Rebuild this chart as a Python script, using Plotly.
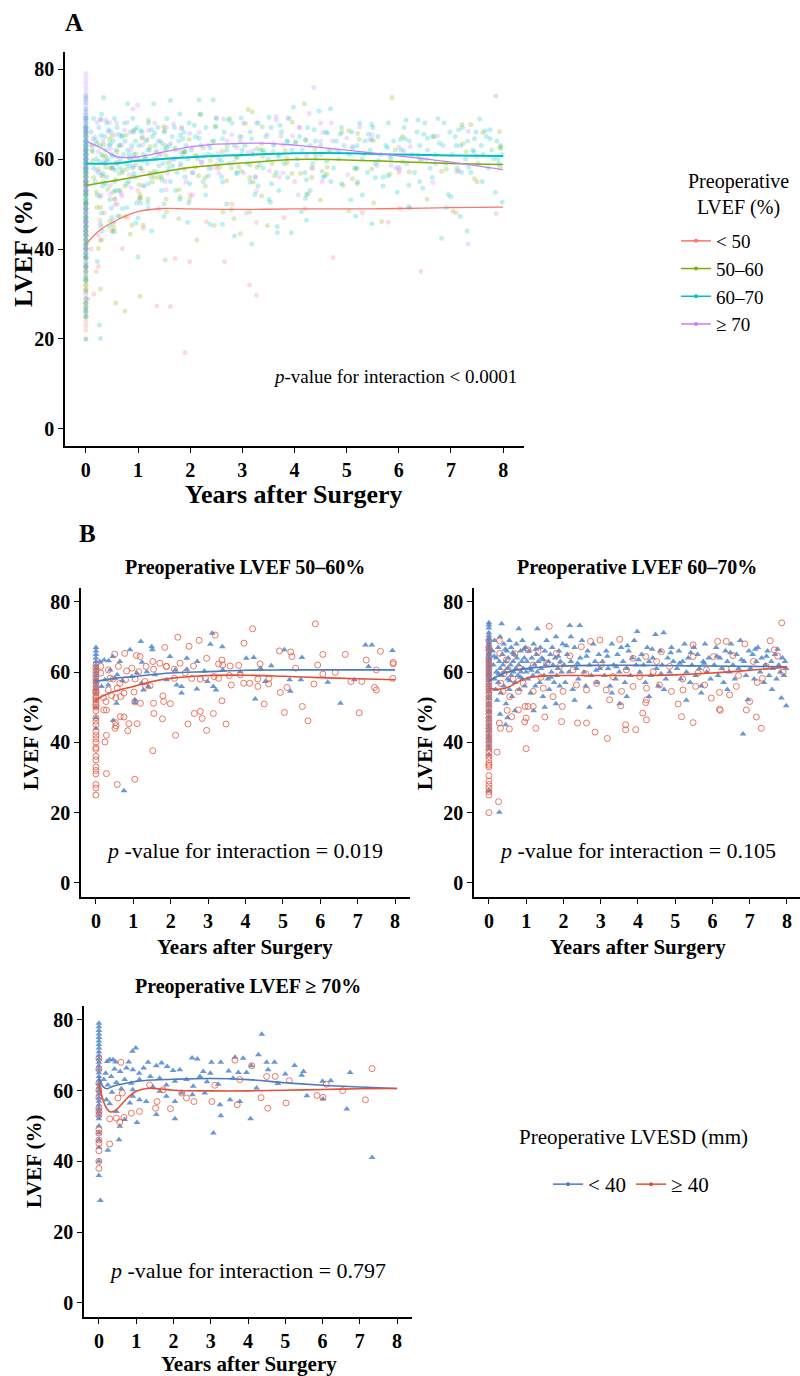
import plotly.graph_objects as go

W, H = 800, 1376
FONT = "Liberation Serif, Times New Roman, DejaVu Serif, serif"

# ---------------- data ----------------
year_ticks = [0, 1, 2, 3, 4, 5, 6, 7, 8]
lvef_ticks = [0, 20, 40, 60, 80]

groups_a = ["&lt; 50", "50–60", "60–70", "≥ 70"]
colors_a = ["#F8766D", "#7CAE00", "#00BFC4", "#C77CFF"]
groups_b = ["&lt; 40", "≥ 40"]

# ----- Panel B1: preoperative LVEF 50-60% -----
b1_blue_col = [67, 66, 65, 64, 63, 62, 61, 60, 59, 58, 57.5, 57, 56, 55, 54, 52, 50, 47, 44]
b1_blue_pts = [(3.11, 71.0), (3.06, 67.9), (3.38, 67.2), (1.2, 68.7), (1.49, 67.2), (1.51, 66.3),
               (0.91, 66.3), (0.45, 64.4), (0.11, 63.0), (0.22, 63.4), (0.34, 63.2), (0.64, 63.0),
               (1.23, 62.8), (1.98, 64.4), (2.43, 63.9), (2.71, 63.0), (4.02, 63.9), (4.22, 64.1),
               (5.04, 66.3), (5.51, 64.1), (7.21, 67.7), (7.38, 67.7), (7.93, 66.1), (7.29, 61.6),
               (6.91, 57.8), (6.54, 51.1), (6.2, 57.1), (5.48, 57.8), (5.2, 54.5), (5.18, 57.8),
               (4.53, 57.3), (4.26, 52.3), (4.69, 61.8), (4.4, 61.1), (3.86, 60.1), (3.39, 60.6),
               (2.9, 60.3), (2.43, 60.8), (2.12, 60.6), (1.58, 59.2), (1.89, 57.8), (2.16, 56.3),
               (2.29, 55.9), (2.7, 55.2), (2.98, 57.3), (3.14, 55.9), (3.21, 54.9), (2.29, 54.0),
               (1.27, 54.9), (1.4, 55.9), (1.22, 56.8), (1.04, 52.1), (1.04, 51.3), (0.55, 51.1),
               (0.46, 46.2), (0.75, 26.2), (0.33, 56.3), (0.51, 58.2), (0.57, 59.2), (0.71, 57.5),
               (0.96, 58.7), (1.09, 59.7), (1.36, 60.1), (0.24, 57.8), (0.15, 55.9), (0.38, 60.6)]
b1_red_col = [62, 61, 60, 59, 58, 57, 56, 55, 54.5, 54, 53, 52.5, 52, 51, 50.5, 50, 49, 47, 46, 45,
              43, 42, 41, 40, 38.5, 38, 36, 35, 33, 32, 31, 28, 27, 25]
b1_red_pts = [(4.19, 72.3), (5.87, 73.7), (2.19, 69.9), (3.19, 70.5), (2.76, 69.0), (1.84, 67.0),
              (2.49, 67.3), (3.96, 68.2), (0.5, 65.1), (0.77, 65.3), (1.08, 64.7), (1.18, 64.4),
              (1.52, 63.0), (2.25, 62.5), (2.96, 63.9), (3.37, 63.4), (4.91, 66.0), (5.21, 65.7),
              (5.24, 64.4), (6.07, 65.0), (6.67, 65.0), (7.61, 65.9), (7.23, 63.4), (7.95, 62.7),
              (7.95, 62.3), (1.88, 61.6), (2.1, 60.8), (2.61, 61.7), (3.28, 62.3), (3.59, 61.7),
              (3.39, 62.0), (3.82, 61.9), (4.39, 62.3), (5.34, 61.1), (5.93, 62.0), (6.4, 59.9),
              (7.5, 60.6), (7.11, 57.3), (7.45, 55.6), (7.5, 54.9), (5.83, 56.6), (6.07, 59.4),
              (5.11, 55.6), (4.93, 54.2), (4.63, 58.2), (4.33, 58.0), (3.95, 56.8), (4.11, 56.8),
              (4.33, 55.9), (4.5, 50.9), (5.04, 48.5), (5.52, 50.2), (5.67, 46.1), (7.04, 48.4),
              (2.96, 43.4), (3.48, 45.2), (2.46, 45.2), (2.63, 48.2), (2.79, 48.8), (2.84, 46.8),
              (3.14, 48.2), (3.37, 51.8), (2.13, 42.0), (1.78, 46.7), (1.55, 48.2), (1.54, 51.1),
              (1.81, 51.6), (1.99, 51.0), (1.79, 53.2), (1.52, 37.6), (1.04, 29.5), (0.57, 28.0),
              (0.28, 31.1), (0.24, 40.1), (0.28, 42.0), (0.21, 49.2), (0.28, 49.2), (0.52, 45.6),
              (0.54, 44.7), (0.51, 44.0), (0.65, 47.3), (0.75, 47.2), (0.85, 43.3), (0.88, 45.3),
              (1.1, 45.3), (1.02, 54.3), (1.04, 51.5), (1.19, 51.1), (1.32, 55.9), (1.31, 57.3),
              (1.45, 56.1), (1.05, 58.0), (0.79, 57.8), (0.46, 58.0), (0.64, 56.8), (0.57, 55.4),
              (0.33, 54.9), (0.42, 53.3), (0.53, 52.7), (0.66, 53.0), (0.75, 54.0), (0.2, 52.7),
              (0.27, 51.6), (2.1, 58.2), (2.39, 59.7), (2.56, 58.2), (2.79, 58.0), (2.93, 58.3),
              (3.16, 58.7), (3.28, 58.2), (3.57, 59.0), (3.62, 56.3), (3.86, 59.2), (4.62, 56.6),
              (6.82, 57.3), (7.94, 58.2), (0.82, 60.3), (0.96, 61.1), (1.14, 60.1), (1.34, 61.6),
              (1.54, 60.8), (1.71, 62.5), (1.89, 61.6), (0.6, 61.6), (0.33, 60.6), (0.13, 61.6),
              (0.13, 59.7), (0.38, 58.2)]

# ----- Panel B2: preoperative LVEF 60-70% -----
b2_blue_col = [74, 73.4, 72.5, 71.2, 70.4, 69.6, 69.1, 68.4, 67.9, 67.3, 66.8, 66.4, 65.7, 65.2, 64.9,
               64.3, 63.8, 63.4, 62.9, 62.3, 61.8, 61.4, 60.9, 60.3, 59.8, 59.3, 58.9, 58.2, 57.6, 56.8,
               56.1, 55.2, 54.3, 53.1, 52.4, 51.2, 50.3, 49.1, 48.4, 47.2, 46.3, 45.1, 44.2, 43.3, 42.1,
               41.2, 40.3, 39.1, 38.2, 36.4, 26.2]
b2_blue_pts = [(0.1, 66), (0.12, 62), (0.15, 58), (0.15, 69), (0.18, 55), (0.2, 64), (0.2, 60), (0.22, 52),
               (0.25, 67), (0.25, 57), (0.28, 63), (0.3, 61), (0.3, 70), (0.32, 54), (0.34, 73.7), (0.35, 59),
               (0.36, 65), (0.38, 62), (0.4, 56), (0.4, 68), (0.42, 60), (0.45, 63), (0.46, 51), (0.48, 66),
               (0.5, 58), (0.5, 61), (0.52, 64), (0.55, 69), (0.55, 55), (0.58, 62), (0.6, 59), (0.6, 67),
               (0.62, 53), (0.65, 63), (0.66, 60), (0.68, 65), (0.7, 57), (0.72, 61), (0.74, 68), (0.75, 64),
               (0.78, 59), (0.8, 72.3), (0.8, 62), (0.82, 55), (0.85, 66), (0.86, 60), (0.88, 63), (0.9, 58),
               (0.9, 69), (0.92, 61), (0.95, 64), (0.96, 56), (0.98, 67), (1.0, 60), (0.3, 48), (0.5, 47),
               (0.7, 49), (0.45, 45), (0.28, 20.1),
               (1.02, 63), (1.05, 58), (1.08, 66), (1.1, 61), (1.12, 54), (1.15, 64), (1.18, 59), (1.2, 68),
               (1.22, 62), (1.25, 56), (1.28, 65), (1.3, 72.3), (1.3, 60), (1.33, 63), (1.36, 57), (1.38, 67),
               (1.4, 61), (1.42, 64), (1.45, 53), (1.48, 59), (1.5, 66), (1.52, 62), (1.55, 69), (1.58, 58),
               (1.6, 63), (1.62, 55), (1.65, 65), (1.68, 60), (1.7, 67), (1.72, 62), (1.75, 57), (1.78, 64),
               (1.8, 70), (1.82, 59), (1.85, 61), (1.88, 66), (1.9, 56), (1.92, 63), (1.95, 60), (1.98, 68),
               (1.5, 50), (1.2, 49), (1.8, 51),
               (2.02, 62), (2.05, 57), (2.1, 65), (2.15, 60), (2.17, 73.2), (2.2, 63), (2.25, 55), (2.3, 67),
               (2.35, 61), (2.4, 58), (2.44, 73.2), (2.45, 64), (2.5, 69), (2.55, 60), (2.6, 56), (2.65, 66),
               (2.7, 62), (2.75, 59), (2.8, 68), (2.85, 63), (2.9, 57), (2.95, 65), (2.98, 61), (2.3, 52),
               (2.7, 50), (2.2, 70),
               (3.05, 63), (3.1, 59), (3.15, 66), (3.2, 61), (3.25, 56), (3.3, 68), (3.35, 62), (3.4, 58),
               (3.45, 65), (3.5, 60), (3.51, 51), (3.55, 67), (3.6, 63), (3.65, 57), (3.7, 61), (3.75, 66),
               (3.8, 59), (3.85, 64), (3.9, 69), (3.95, 62), (3.98, 71.5), (3.3, 54), (3.7, 53),
               (4.05, 60), (4.1, 65), (4.15, 62), (4.2, 57), (4.25, 67), (4.3, 63), (4.35, 59), (4.4, 64),
               (4.47, 70.7), (4.5, 61), (4.55, 56), (4.6, 66), (4.65, 62), (4.69, 71.2), (4.75, 58), (4.8, 64),
               (4.85, 60), (4.9, 67), (4.95, 63), (4.3, 53), (4.7, 55),
               (5.05, 61), (5.1, 66), (5.15, 58), (5.2, 63), (5.25, 68), (5.3, 60), (5.35, 64), (5.4, 57),
               (5.45, 62), (5.5, 67), (5.55, 59), (5.6, 65), (5.65, 61), (5.7, 56), (5.75, 63), (5.8, 68),
               (5.85, 60), (5.9, 64), (5.95, 58), (5.3, 52), (5.7, 54),
               (6.05, 62), (6.1, 67), (6.15, 59), (6.2, 64), (6.25, 61), (6.3, 57), (6.35, 66), (6.4, 63),
               (6.45, 60), (6.5, 68), (6.55, 62), (6.6, 58), (6.65, 65), (6.7, 61), (6.75, 69), (6.82, 42.4),
               (6.85, 63), (6.9, 59), (6.95, 52.1), (6.98, 66), (6.4, 55),
               (7.02, 61), (7.08, 65), (7.12, 58), (7.18, 63), (7.22, 67), (7.28, 60), (7.32, 64), (7.38, 57),
               (7.42, 62), (7.48, 66), (7.52, 59), (7.58, 63), (7.62, 61), (7.68, 65), (7.72, 58), (7.78, 62),
               (7.82, 60), (7.85, 52.6), (7.88, 64), (7.92, 59), (7.95, 63), (7.98, 50.4), (7.98, 61), (7.6, 55),
               (0.14, 64.5), (0.26, 59.5), (0.44, 66.5), (0.56, 57.5), (0.64, 65.5), (0.84, 58.5),
               (0.94, 66.5), (1.14, 60.5), (1.26, 66.5), (1.46, 63.5), (1.66, 58.5), (1.86, 64.5),
               (2.08, 67.5), (2.38, 62.5), (2.62, 64.5), (2.88, 60.5), (3.18, 64.5), (3.42, 61.5),
               (3.72, 67.5), (4.02, 63.5), (4.38, 66.5), (4.62, 59.5), (4.88, 65.5), (5.12, 62.5),
               (5.42, 65.5), (5.78, 62.5), (6.12, 64.5), (6.48, 65.5), (6.78, 63.5), (7.15, 66.5),
               (7.45, 64.5), (7.75, 66.5)]
b2_red_col = [69, 67, 66, 64, 63, 62, 61, 60, 59, 58, 57, 56, 55, 54, 53, 52, 51, 50, 49, 48, 47, 46, 45,
              44, 43, 42, 41, 40, 39, 38, 37, 36, 35, 34, 33.5, 33, 30.5, 29, 28, 27, 26, 25, 20]
b2_red_pts = [(7.86, 74.0), (1.62, 73.0), (7.55, 68.9), (3.51, 69.3), (6.14, 68.7), (6.37, 68.7), (2.73, 68.7),
              (2.98, 69.1), (0.28, 68.9), (7.66, 66.3), (6.87, 68.0), (5.48, 67.7), (6.03, 64.4), (6.55, 64.7),
              (5.48, 64.4), (4.63, 65.8), (4.21, 64.4), (3.87, 63.9), (2.48, 67.2), (2.17, 64.6), (1.81, 65.3),
              (1.32, 65.8), (1.05, 66.3), (0.7, 65.2), (0.47, 63.4), (0.29, 65.3), (7.44, 61.6), (6.37, 60.8),
              (5.84, 60.6), (5.61, 59.7), (4.85, 61.6), (4.41, 60.1), (4.05, 58.7), (3.69, 60.6), (3.33, 58.7),
              (2.26, 60.6), (1.9, 61.6), (1.55, 62.5), (1.19, 62.0), (0.83, 61.1), (0.52, 60.6), (0.32, 56.8),
              (0.38, 54.5), (0.56, 53.0), (0.79, 54.5), (0.92, 56.8), (1.19, 54.5), (1.46, 55.4), (1.72, 53.0),
              (1.99, 54.5), (2.35, 56.3), (2.62, 54.9), (2.89, 56.8), (3.15, 54.9), (3.56, 54.5), (3.87, 55.9),
              (4.23, 55.4), (4.58, 56.3), (4.9, 54.5), (5.21, 54.9), (5.55, 55.9), (5.79, 56.3), (6.19, 54.2),
              (6.46, 53.5), (6.64, 55.9), (7.34, 58.2), (7.0, 51.6), (5.97, 52.6), (6.19, 49.4), (6.21, 49.1),
              (6.91, 49.2), (7.18, 47.2), (7.31, 44.0), (5.48, 45.6), (5.17, 47.3), (5.08, 50.9), (4.23, 46.4),
              (4.13, 48.3), (4.23, 52.1), (4.21, 51.3), (3.94, 43.6), (3.67, 43.6), (3.67, 45.0), (3.54, 50.4),
              (3.18, 41.1), (2.85, 42.9), (3.24, 52.1), (2.62, 45.5), (2.38, 45.5), (1.95, 45.9), (1.97, 50.2),
              (1.5, 47.2), (1.26, 44.0), (1.19, 50.2), (1.05, 50.2), (0.97, 50.2), (1.0, 46.9), (1.0, 38.2),
              (0.96, 45.8), (0.61, 47.3), (0.79, 49.2), (0.55, 43.8), (0.31, 44.0), (0.22, 37.2), (0.26, 23.1),
              (0.28, 45.5), (0.49, 49.1), (7.75, 64.5), (7.1, 63.0), (5.2, 58.0), (2.6, 59.5), (1.4, 58.5),
              (0.65, 58.0), (0.4, 59.5), (3.0, 62.0), (4.5, 63.0), (6.7, 59.0), (7.9, 60.0), (7.2, 57.0)]

# ----- Panel B3: preoperative LVEF >= 70% -----
b3_blue_col = [79, 78, 77, 76, 75, 74, 73, 72, 71, 70, 69, 68, 67, 66, 65, 64, 63, 62, 61, 60, 59, 58,
               57, 56, 55, 54, 53, 52, 50, 48, 46, 44, 40, 36]
b3_blue_pts = [(4.37, 75.9), (0.99, 72.0), (0.9, 71.1), (0.45, 68.1), (0.29, 68.7), (0.22, 68.2), (0.38, 68.7),
               (0.8, 68.1), (3.65, 69.4), (3.87, 69.1), (2.5, 69.2), (2.64, 68.9), (3.02, 68.0), (3.27, 68.0),
               (4.28, 70.1), (4.5, 68.0), (4.71, 68.0), (5.25, 67.1), (6.74, 65.1), (5.49, 65.4), (5.44, 64.3),
               (6.0, 62.6), (6.22, 62.8), (5.0, 64.7), (4.54, 65.9), (4.09, 67.0), (3.48, 65.5), (3.74, 65.1),
               (3.96, 65.1), (2.99, 64.9), (2.8, 65.4), (2.71, 64.0), (2.17, 65.9), (1.99, 65.7), (1.83, 66.8),
               (1.68, 67.8), (1.54, 67.0), (1.32, 68.0), (1.2, 66.4), (1.08, 64.9), (0.91, 65.9), (0.74, 66.4),
               (0.57, 65.4), (0.42, 66.1), (0.33, 64.0), (0.18, 64.9), (0.13, 63.1), (0.24, 61.6), (0.47, 62.3),
               (0.69, 63.1), (0.87, 62.1), (1.09, 63.1), (1.38, 64.0), (1.63, 63.5), (2.04, 62.6), (2.35, 63.1),
               (2.53, 61.2), (3.2, 61.8), (4.23, 60.7), (5.58, 58.5), (6.01, 57.6), (6.65, 54.8), (3.52, 57.4),
               (3.78, 56.9), (3.25, 56.0), (2.84, 59.3), (2.51, 58.8), (2.22, 59.3), (2.04, 56.9), (1.81, 58.4),
               (1.63, 59.8), (1.54, 53.2), (1.27, 56.9), (1.09, 57.4), (1.02, 51.0), (0.91, 58.4), (0.83, 56.5),
               (0.69, 51.8), (0.56, 49.9), (0.47, 54.1), (0.29, 56.3), (0.2, 57.4), (0.24, 43.1), (0.54, 46.1),
               (3.07, 48.0), (3.27, 52.9), (4.07, 52.0), (2.04, 52.0), (7.33, 41.1), (0.04, 28.9), (0.91, 60.2),
               (1.81, 61.6), (0.6, 60.5), (0.35, 59.5), (1.45, 61.0), (2.9, 62.5), (3.6, 63.5), (4.8, 62.0)]
b3_red_col = [69, 66, 62, 60, 58, 55, 54, 53, 49, 48, 46, 45, 43, 40, 38]
b3_red_pts = [(3.65, 68.6), (4.1, 67.0), (7.33, 66.2), (0.59, 68.0), (0.63, 59.3), (4.5, 64.0), (4.73, 64.0),
              (5.11, 62.8), (6.1, 61.8), (6.54, 60.0), (7.15, 57.4), (5.85, 58.6), (6.01, 58.1), (5.02, 56.5),
              (4.53, 55.0), (4.35, 58.0), (3.78, 63.1), (3.71, 56.0), (3.11, 61.5), (3.03, 56.9), (2.55, 56.9),
              (2.35, 57.9), (2.22, 59.3), (1.92, 54.9), (1.72, 60.2), (1.52, 55.0), (1.56, 56.9), (1.36, 61.6),
              (1.09, 54.1), (0.87, 53.6), (0.67, 52.4), (0.56, 51.1), (0.47, 52.2), (0.29, 52.0), (0.29, 44.9),
              (0.51, 57.9)]

# ----- Panel A: preoperative LVEF < 50% (other groups are the B panels combined) -----
a_lt50_col = [50, 49, 48, 47, 46, 45, 44, 43, 42, 41, 40, 39, 38, 37, 36, 35, 34, 33, 32, 31, 30, 29,
              28, 27, 26, 25, 24, 23, 22, 20]
a_lt50_pts = [(0.24, 36.1), (0.2, 35.0), (0.27, 46.4), (0.3, 42.0), (0.35, 48.0), (0.5, 44.0), (0.7, 40.1),
              (0.8, 47.0), (1.1, 44.6), (1.36, 27.3), (1.62, 27.2), (1.71, 37.9), (1.9, 17.0), (1.99, 37.2),
              (2.31, 46.1), (2.66, 37.2), (3.14, 32.0), (3.27, 29.8), (3.27, 45.9), (3.8, 47.0), (4.74, 38.1),
              (5.3, 48.0), (6.02, 49.0), (6.42, 35.0), (7.87, 47.9), (0.15, 30.0), (0.1, 40.0), (0.6, 50.0),
              (1.4, 49.0), (2.8, 50.0), (4.2, 49.0), (5.8, 46.0), (7.1, 48.0), (2.0, 52.0), (1.0, 53.0),
              (0.9, 56.0), (2.5, 58.0), (4.0, 55.0), (6.0, 57.0)]

# ----- fitted curves -----
a_lt50_fit_x = [0, 0.27, 0.59, 1.0, 1.48, 2, 3, 4, 5, 6, 7, 8]
a_lt50_fit_y = [41.0, 44.2, 46.4, 48.3, 49.0, 48.9, 48.8, 48.9, 48.9, 49.0, 49.2, 49.3]
a_5060_fit_x = [0, 0.5, 1, 1.5, 2, 2.5, 3, 4, 5, 6, 7, 8]
a_5060_fit_y = [54.1, 55.1, 56.1, 57.2, 58.1, 58.7, 59.1, 59.9, 59.8, 59.4, 59.0, 58.8]
a_6070_fit_x = [0, 0.5, 1, 2, 3, 4, 5, 6, 7, 8]
a_6070_fit_y = [59.0, 59.0, 59.6, 60.4, 60.9, 61.3, 61.3, 61.0, 60.8, 60.7]
a_ge70_fit_x = [0, 0.3, 0.6, 1, 1.5, 2, 2.5, 3, 3.5, 4, 5, 6, 7, 8]
a_ge70_fit_y = [64.0, 62.4, 60.5, 60.5, 61.6, 62.7, 63.3, 63.5, 63.5, 63.1, 62.0, 60.7, 59.3, 57.6]

b1_lt40_fit_x = [0, 0.5, 1, 2, 3, 4, 5, 6, 7, 8]
b1_lt40_fit_y = [57.3, 58.2, 58.7, 59.7, 60.1, 60.5, 60.6, 60.6, 60.6, 60.6]
b1_ge40_fit_x = [0, 0.25, 0.5, 1, 1.5, 2, 3, 4, 5, 6, 7, 8]
b1_ge40_fit_y = [52.1, 53.5, 54.5, 55.9, 57.3, 58.2, 59.0, 59.1, 58.8, 58.4, 58.1, 57.8]
b2_lt40_fit_x = [0, 0.5, 1, 2, 3, 4, 5, 6, 7, 8]
b2_lt40_fit_y = [57.5, 60.0, 61.0, 61.7, 61.9, 61.9, 61.8, 61.7, 61.6, 61.5]
b2_ge40_fit_x = [0, 0.25, 0.5, 0.75, 1, 1.5, 2, 3, 4, 5, 6, 7, 8]
b2_ge40_fit_y = [55.4, 55.1, 55.6, 57.0, 58.2, 58.9, 59.0, 59.0, 59.0, 59.2, 59.7, 60.5, 61.4]
b3_lt40_fit_x = [0, 0.08, 0.2, 0.4, 0.7, 1, 1.5, 2, 3, 4, 5, 6, 7, 8]
b3_lt40_fit_y = [64.0, 61.5, 60.5, 61.3, 62.0, 62.6, 63.0, 63.2, 63.4, 63.1, 62.2, 61.5, 61.0, 60.6]
b3_ge40_fit_x = [0, 0.08, 0.18, 0.3, 0.42, 0.6, 0.8, 1.0, 1.3, 1.6, 2, 3, 4, 5, 6, 7, 8]
b3_ge40_fit_y = [62.0, 58.5, 55.5, 54.0, 54.2, 56.0, 58.3, 59.8, 60.6, 60.5, 60.1, 59.9, 59.9, 60.1, 60.3, 60.5, 60.6]

# ---------------- helpers ----------------
BLUE_PT, RED_PT = "#4F86CC", "#E5604A"
BLUE_LN, RED_LN = "#4A7BC0", "#E2503A"


def px(x):
    return x / W


def py(y):
    return 1 - y / H


def combine(cols, ptss):
    xs, ys = [], []
    for c, p in zip(cols, ptss):
        xs += [0.0] * len(c) + [q[0] for q in p]
        ys += list(c) + [q[1] for q in p]
    return xs, ys


fig = go.Figure()

# ---- panel A scatter ----
a_sets = [
    combine([a_lt50_col], [a_lt50_pts]),
    combine([b1_blue_col, b1_red_col], [b1_blue_pts, b1_red_pts]),
    combine([b2_blue_col, b2_red_col], [b2_blue_pts, b2_red_pts]),
    combine([b3_blue_col, b3_red_col], [b3_blue_pts, b3_red_pts]),
]
for (xs, ys), col in zip(a_sets, colors_a):
    fig.add_trace(go.Scatter(x=xs, y=ys, mode="markers", xaxis="x", yaxis="y", showlegend=False,
                             marker=dict(color=col, size=5, opacity=0.25, line=dict(width=0)),
                             hoverinfo="skip"))
a_fits = [(a_lt50_fit_x, a_lt50_fit_y, 1.3), (a_5060_fit_x, a_5060_fit_y, 1.5),
          (a_6070_fit_x, a_6070_fit_y, 2.0), (a_ge70_fit_x, a_ge70_fit_y, 1.3)]
for (fx, fy, lw), col in zip(a_fits, colors_a):
    fig.add_trace(go.Scatter(x=fx, y=fy, mode="lines", xaxis="x", yaxis="y", showlegend=False,
                             line=dict(color=col, width=lw, shape="spline", smoothing=1.0)))

# ---- panels B ----
b_panels = [
    ("x2", "y2", b1_blue_col, b1_blue_pts, b1_red_col, b1_red_pts,
     (b1_lt40_fit_x, b1_lt40_fit_y), (b1_ge40_fit_x, b1_ge40_fit_y)),
    ("x3", "y3", b2_blue_col, b2_blue_pts, b2_red_col, b2_red_pts,
     (b2_lt40_fit_x, b2_lt40_fit_y), (b2_ge40_fit_x, b2_ge40_fit_y)),
    ("x4", "y4", b3_blue_col, b3_blue_pts, b3_red_col, b3_red_pts,
     (b3_lt40_fit_x, b3_lt40_fit_y), (b3_ge40_fit_x, b3_ge40_fit_y)),
]
for xa, ya, bcol, bpts, rcol, rpts, bfit, rfit in b_panels:
    bx, by = combine([bcol], [bpts])
    rx, ry = combine([rcol], [rpts])
    fig.add_trace(go.Scatter(x=bx, y=by, mode="markers", xaxis=xa, yaxis=ya, showlegend=False,
                             marker=dict(symbol="triangle-up", color=BLUE_PT, size=6, opacity=0.85,
                                         line=dict(width=0)), hoverinfo="skip"))
    fig.add_trace(go.Scatter(x=rx, y=ry, mode="markers", xaxis=xa, yaxis=ya, showlegend=False,
                             marker=dict(symbol="circle-open", color=RED_PT, size=6, opacity=0.85,
                                         line=dict(width=1)), hoverinfo="skip"))
    fig.add_trace(go.Scatter(x=bfit[0], y=bfit[1], mode="lines", xaxis=xa, yaxis=ya, showlegend=False,
                             line=dict(color=BLUE_LN, width=1.6, shape="spline", smoothing=1.0)))
    fig.add_trace(go.Scatter(x=rfit[0], y=rfit[1], mode="lines", xaxis=xa, yaxis=ya, showlegend=False,
                             line=dict(color=RED_LN, width=1.6, shape="spline", smoothing=1.0)))

# ---- legend entries ----
for name, col in zip(groups_a, colors_a):
    fig.add_trace(go.Scatter(x=[None], y=[None], mode="lines+markers", name=name, legend="legend",
                             line=dict(color=col, width=1.5), marker=dict(color=col, size=4)))
for name, col in zip(groups_b, [BLUE_LN, RED_LN]):
    fig.add_trace(go.Scatter(x=[None], y=[None], mode="lines+markers", name=name, legend="legend2",
                             line=dict(color=col, width=1.5), marker=dict(color=col, size=4)))


# ---------------- axes ----------------
def xax(domain, anchor, rng, size):
    return dict(domain=domain, anchor=anchor, range=rng, tickvals=year_ticks, showline=True,
                linecolor="black", linewidth=1.6, ticks="outside", ticklen=5, tickwidth=1.4,
                tickcolor="black", showgrid=False, zeroline=False,
                tickfont=dict(family=FONT, size=size, color="black", weight="bold"))


def yax(domain, anchor, rng, size):
    return dict(domain=domain, anchor=anchor, range=rng, tickvals=lvef_ticks, showline=True,
                linecolor="black", linewidth=1.6, ticks="outside", ticklen=5, tickwidth=1.4,
                tickcolor="black", showgrid=False, zeroline=False,
                tickfont=dict(family=FONT, size=size, color="black", weight="bold"))


fig.update_layout(
    width=W, height=H, margin=dict(l=0, r=0, t=0, b=0),
    plot_bgcolor="white", paper_bgcolor="white",
    font=dict(family=FONT, color="black"),
    xaxis=xax([px(65), px(524)], "y", [-0.4, 8.4], 20),
    yaxis=yax([py(446), py(52)], "x", [-3.8, 83.8], 20),
    xaxis2=xax([px(81), px(410)], "y2", [-0.4, 8.4], 20),
    yaxis2=yax([py(897), py(588)], "x2", [-4.0, 83.9], 20),
    xaxis3=xax([px(474), 1.0], "y3", [-0.4, 8.35], 20),
    yaxis3=yax([py(897), py(588)], "x3", [-4.0, 83.9], 20),
    xaxis4=xax([px(84), px(412)], "y4", [-0.4, 8.4], 20),
    yaxis4=yax([py(1317), py(1006)], "x4", [-4.0, 83.9], 20),
    legend=dict(x=px(676), y=py(222), xanchor="left", yanchor="top", bgcolor="rgba(0,0,0,0)",
                font=dict(family=FONT, size=19, color="black"), itemwidth=30, tracegroupgap=0),
    legend2=dict(x=px(548), y=py(1164), xanchor="left", yanchor="top", orientation="h",
                 bgcolor="rgba(0,0,0,0)", font=dict(family=FONT, size=21, color="black"),
                 itemwidth=30),
)


def ann(text, x, y, size, bold=False, xanchor="center", angle=0):
    fig.add_annotation(text=text, x=px(x), y=py(y), xref="paper", yref="paper", showarrow=False,
                       xanchor=xanchor, yanchor="middle", textangle=angle,
                       font=dict(family=FONT, size=size, color="black",
                                 weight="bold" if bold else "normal"))


ann("A", 74, 23, 25, bold=True)
ann("B", 87, 533, 25, bold=True)
ann("LVEF (%)", 24, 249, 26, bold=True, angle=-90)
ann("Years after Surgery", 294, 494, 26, bold=True)
ann("<i>p</i>-value for interaction &lt; 0.0001", 519, 376, 19, xanchor="right")
ann("Preoperative<br>LVEF (%)", 738, 195, 20)

ann("Preoperative LVEF 50–60%", 245, 567, 20, bold=True)
ann("Preoperative LVEF 60–70%", 637, 567, 20, bold=True)
ann("Preoperative LVEF ≥ 70%", 248, 986, 20, bold=True)
ann("LVEF (%)", 31, 743, 21, bold=True, angle=-90)
ann("LVEF (%)", 425, 743, 21, bold=True, angle=-90)
ann("LVEF (%)", 34, 1161, 21, bold=True, angle=-90)
ann("Years after Surgery", 245, 947, 21, bold=True)
ann("Years after Surgery", 638, 947, 21, bold=True)
ann("Years after Surgery", 249, 1364, 21, bold=True)
ann("<i>p</i> -value for interaction = 0.019", 244, 850, 22)
ann("<i>p</i> -value for interaction = 0.105", 637, 850, 22)
ann("<i>p</i> -value for interaction = 0.797", 247, 1270, 22)
ann("Preoperative LVESD (mm)", 633, 1137, 21)

fig.write_html("out.html")
